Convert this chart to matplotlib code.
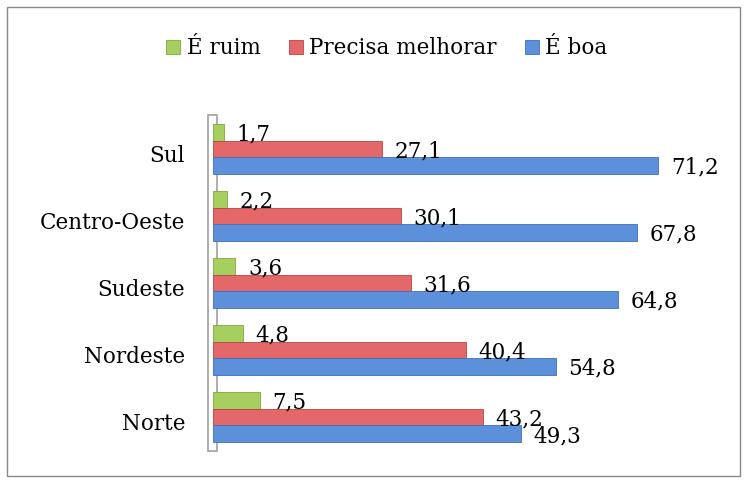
import matplotlib
matplotlib.use("Agg")
from matplotlib import pyplot as plt
from matplotlib.patches import Rectangle
import numpy as np

plt.rcParams['font.family'] = ['DejaVu Serif']

regioes = ["Norte", "Nordeste", "Sudeste", "Centro-Oeste", "Sul"]
e_ruim = [7.5, 4.8, 3.6, 2.2, 1.7]
precisa_melhorar = [43.2, 40.4, 31.6, 30.1, 27.1]
e_boa = [49.3, 54.8, 64.8, 67.8, 71.2]

series = [
    ("É ruim", e_ruim, "#a6cf5f", "#7fa63e", 0.25),
    ("Precisa melhorar", precisa_melhorar, "#e4676a", "#b84242", 0.0),
    ("É boa", e_boa, "#5d90da", "#3f6fb5", -0.25),
]

fig = plt.figure(figsize=(7.47, 4.83), dpi=100)
ax = fig.add_axes([0.285, 0.067, 0.67, 0.694])

y = np.arange(len(regioes))
h = 0.25
for nome, vals, cor, borda, off in series:
    ax.barh(y + off, vals, height=h, color=cor, edgecolor=borda, linewidth=0.6, label=nome, zorder=3)
    for yi, v in zip(y, vals):
        ax.annotate("{:.1f}".format(v).replace(".", ","), (v, yi + off), xytext=(9, -1.5),
                    textcoords="offset points", fontsize=15.5, va="center", ha="left", zorder=4)

ax.set_xlim(0, 80)
ax.set_ylim(-0.5, 4.5)
ax.set_yticks(y - 0.07)
ax.set_yticklabels(regioes, fontsize=15.5)
ax.tick_params(axis="y", length=0, pad=20)
ax.set_xticks([])
for s in ax.spines.values():
    s.set_visible(False)

# parede 3D do eixo
ax.add_patch(Rectangle((-0.01, 0.0), 0.018, 1.0, transform=ax.transAxes, fill=False,
                       edgecolor="#a0a0a0", linewidth=1.2, clip_on=False))

ax.legend(loc="center", bbox_to_anchor=(0.518, 0.90), bbox_transform=fig.transFigure,
          ncol=3, frameon=False, fontsize=15.5, handlelength=0.65, handleheight=0.65,
          handletextpad=0.3, columnspacing=1.3)

fig.patches.append(Rectangle((0.009, 0.014), 0.982, 0.972, transform=fig.transFigure,
                             fill=False, edgecolor="#888888", linewidth=1))

plt.savefig("out.png", dpi=100)
